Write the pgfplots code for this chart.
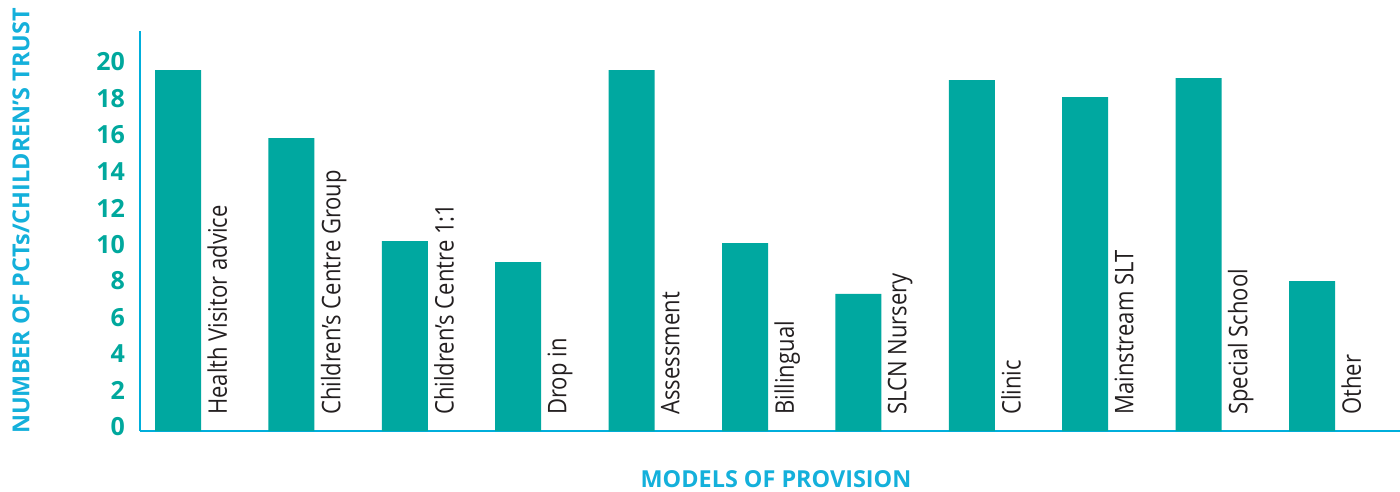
\documentclass[border=0pt]{standalone}
\usepackage{fontspec}
\setmainfont{Open Sans}
\newfontfamily\labfont[FakeStretch=0.86]{Open Sans}
\usepackage{pgfplots}
\pgfplotsset{compat=1.18}
\definecolor{barcol}{RGB}{0,168,160}
\definecolor{tickcol}{RGB}{0,168,157}
\definecolor{axiscol}{RGB}{0,174,219}
\definecolor{titlecol}{RGB}{20,176,219}
\definecolor{labcol}{RGB}{35,31,32}
\begin{document}
\begin{tikzpicture}
\begin{axis}[
  scale only axis,
  width=630pt, height=200pt,
  xmin=-0.335, xmax=10.776,
  ymin=0, ymax=21.92,
  axis x line*=bottom, axis y line*=left,
  axis line style={-, draw=axiscol, line width=1.25pt},
  xtick=\empty,
  ytick={0,2,...,20},
  major tick length=0pt,
  /pgf/number format/assume math mode=true,
  yticklabel style={font=\bfseries\fontsize{12.5}{14}\selectfont, text=tickcol, yshift=2pt, xshift=-4pt},
  ybar, bar width=23pt, bar shift=0pt,
  clip=false,
]
\addplot[fill=barcol, draw=none] coordinates {
  (0,19.78) (1,16.05) (2,10.41) (3,9.26) (4,19.78) (5,10.30)
  (6,7.51) (7,19.23) (8,18.30) (9,19.34) (10,8.22)
};
\foreach \i/\t in {0/Health Visitor advice, 1/Children’s Centre Group, 2/Children’s Centre 1:1, 3/Drop in, 4/Assessment, 5/Billingual, 6/SLCN Nursery, 7/Clinic, 8/Mainstream SLT, 9/Special School, 10/Other} {
  \edef\temp{\noexpand\node[rotate=90, anchor=north west, inner sep=0pt, text=labcol, font=\noexpand\labfont\noexpand\fontsize{12.8}{14}\noexpand\selectfont] at (axis cs:\i+0.2557,0.877) {\t};}
  \temp
}
\node[font=\bfseries\fontsize{11.7}{14}\selectfont, text=titlecol] at (axis cs:5.273,-2.66) {MODELS OF PROVISION};
\node[rotate=90, font=\bfseries\fontsize{11.7}{14}\selectfont, text=titlecol] at (axis cs:-1.384,11.51) {NUMBER OF PCTs/CHILDREN’S TRUST};
\coordinate (BL) at (axis cs:-1.570,-3.29);
\coordinate (TR) at (axis cs:10.776,23.62);
\end{axis}
\pgfresetboundingbox
\useasboundingbox (BL) rectangle (TR);
\end{tikzpicture}
\end{document}
